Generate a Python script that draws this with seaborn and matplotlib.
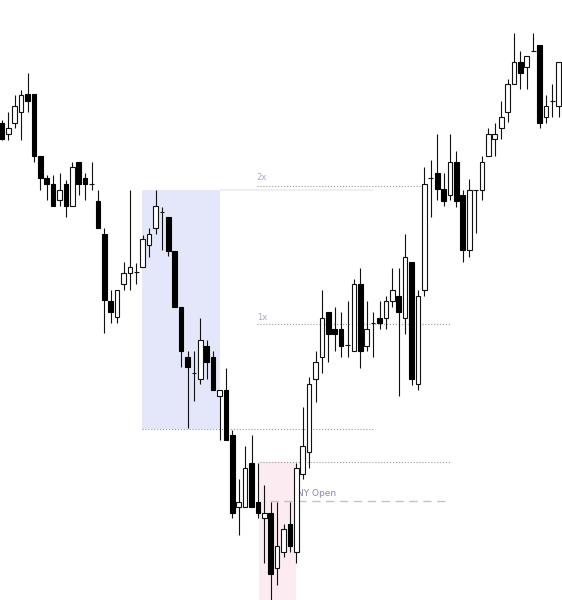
import matplotlib
matplotlib.use("Agg")
import matplotlib.pyplot as plt
import seaborn as sns
import pandas as pd
import numpy as np

### 1) candle data (price points, read off the chart)

opens = [477, 466, 477, 488, 506, 506, 444, 422, 416, 400, 416, 394, 438, 422, 416, 399, 366, 299, 283, 316,
         327, 328, 333, 355, 372, 388, 383, 349, 293, 243, 227, 221, 254, 243, 204, 210, 165, 93, 93, 137,
         98, 82, 87, 32, 48, 76, 48, 126, 148, 221, 243, 288, 271, 271, 255, 249, 316, 254, 277, 282,
         282, 299, 304, 282, 338, 216, 310, 422, 427, 411, 405, 438, 405, 350, 410, 410, 444, 461, 472, 488,
         516, 538, 533, 549, 555, 483, 499, 494]
highs = [480, 488, 505, 510, 527, 506, 444, 425, 425, 427, 420, 438, 438, 427, 438, 410, 372, 310, 310, 338,
         410, 337, 365, 372, 410, 393, 383, 349, 293, 249, 249, 282, 260, 249, 210, 232, 170, 121, 154, 165,
         137, 115, 98, 98, 76, 98, 137, 193, 223, 249, 310, 288, 293, 288, 299, 321, 332, 299, 288, 299,
         304, 332, 332, 366, 338, 310, 433, 440, 466, 427, 466, 449, 410, 421, 410, 444, 472, 477, 499, 521,
         567, 549, 544, 567, 555, 505, 516, 538]
lows = [460, 460, 472, 460, 488, 438, 410, 400, 394, 394, 383, 394, 405, 400, 410, 372, 267, 277, 277, 310,
        310, 316, 333, 343, 366, 350, 344, 293, 233, 172, 199, 216, 221, 210, 160, 160, 82, 65, 93, 93,
        82, 37, 0, 15, 43, 48, 37, 121, 132, 198, 227, 238, 249, 243, 243, 249, 232, 249, 243, 271,
        271, 293, 204, 266, 215, 210, 304, 383, 400, 394, 400, 393, 338, 343, 367, 400, 444, 444, 461, 478,
        516, 511, 511, 549, 472, 477, 483, 483]
closes = [461, 472, 494, 505, 499, 444, 422, 416, 394, 410, 394, 433, 416, 416, 416, 372, 300, 288, 310, 327,
          333, 328, 361, 366, 394, 388, 349, 293, 249, 233, 227, 260, 238, 210, 210, 160, 87, 98, 132, 93,
          87, 87, 26, 54, 71, 54, 132, 154, 216, 238, 282, 266, 266, 254, 255, 316, 249, 271, 277, 277,
          299, 310, 288, 343, 221, 304, 416, 422, 411, 399, 438, 399, 350, 410, 410, 438, 466, 466, 483, 516,
          538, 527, 544, 549, 477, 494, 499, 538]

# range boxes / levels
asia_high, asia_low = 410, 171      # blue box
ny_high, ny_low = 138, 0            # pink box
ny_open = 99
levels = {"1x": ny_high + (ny_high - ny_low), "2x": ny_high + 2 * (ny_high - ny_low)}

df = pd.DataFrame({"Open": opens, "High": highs, "Low": lows, "Close": closes})
df["i"] = np.arange(len(df))
df["bull"] = df["Close"] >= df["Open"]

### 2) plot

sns.set_style("white")
fig = plt.figure(figsize=(5.62, 6.0), dpi=100)
ax = fig.add_axes([0, 0, 1, 1])

# boxes
ax.axhspan(asia_low, asia_high, xmin=0, xmax=1, alpha=0)  # keep scale
ax.fill_between([21.8, 34.05], asia_low, asia_high, color="#e4e6fa", lw=0, zorder=0)
ax.fill_between([40.15, 45.95], ny_low, ny_high, color="#fcebf1", lw=0, zorder=0)

# level lines
ax.hlines(asia_low, 21.8, 58.0, colors="#9a9a9a", linestyles=":", lw=0.8, zorder=1)
ax.hlines(asia_high, 34.05, 58.0, colors="#eeeaf2", lw=1.2, zorder=1)
ax.hlines(ny_high, 40.3, 70.0, colors="#9a9a9a", linestyles=":", lw=0.8, zorder=1)
ax.hlines(levels["1x"], 39.8, 70.0, colors="#9a9a9a", linestyles=":", lw=0.8, zorder=1)
ax.hlines(levels["2x"], 39.8, 66.3, colors="#9a9a9a", linestyles=":", lw=0.8, zorder=1)
ax.plot([41.9, 70.0], [ny_open, ny_open], color="#c4c4c4", lw=1.0, dashes=(6, 4), zorder=1)

ax.text(39.8, levels["2x"] + 8, "2x", color="#aaa6c6", fontsize=6, va="center", ha="left")
ax.text(39.8, levels["1x"] + 6, "1x", color="#aaa6c6", fontsize=6, va="center", ha="left")
ax.text(46.1, ny_open + 7, "NY Open", color="#8c82b4", fontsize=6.5, va="center", ha="left")

# wicks
ax.vlines(df["i"], df["Low"], df["High"], colors="#111111", lw=0.8, zorder=2)

# bodies
w = 0.72
bot = np.minimum(df["Open"], df["Close"])
hgt = (df["Close"] - df["Open"]).abs()
bull = df[df["bull"]]
bear = df[~df["bull"]]
ax.bar(bull["i"], hgt[df["bull"]], bottom=bot[df["bull"]], width=w,
       color="white", edgecolor="#111111", lw=0.8, zorder=3)
ax.bar(bear["i"], hgt[~df["bull"]], bottom=bot[~df["bull"]], width=w,
       color="black", edgecolor="black", lw=0.8, zorder=3)

ax.set_xlim(-0.31, 87.5)
ax.set_ylim(0, 600)
ax.axis("off")

plt.savefig("out.png", dpi=100)
